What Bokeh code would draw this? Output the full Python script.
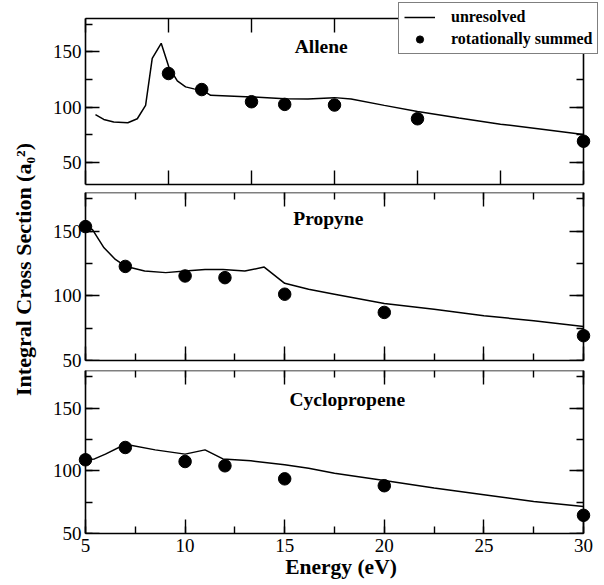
import math

from bokeh.plotting import figure
from bokeh.models import (Range1d, LinearAxis, SingleIntervalTicker, Legend,
                          LegendItem, Label)
from bokeh.layouts import column, row
from bokeh.embed import file_html
from bokeh.resources import INLINE

# ---- Allene ----
allene_curve_e = [0.6, 1.1, 1.7, 2.55, 3.12, 3.62, 4.02, 4.56, 5.03, 5.53, 6.03,
                  6.53, 7.04, 7.54, 10.0, 12.0, 13.4, 15.0, 16.0, 18.0, 20.0,
                  22.5, 25.0, 27.5, 30.0]
allene_curve_ics = [93.1, 88.8, 86.4, 85.8, 89.4, 101.5, 144.0, 157.6, 135.8,
                    123.6, 118.2, 116.4, 115.2, 110.6, 109.1, 107.5, 107.3,
                    108.5, 107.2, 101.5, 96.0, 90.0, 84.5, 80.0, 75.2]
allene_pts_e = [5, 7, 10, 12, 15, 20, 30]
allene_pts_ics = [130.3, 115.8, 104.8, 102.4, 101.8, 89.4, 69.1]

# ---- Propyne ----
propyne_curve_e = [5.0, 5.35, 5.93, 6.5, 7.0, 7.97, 9.03, 10.0, 11.0, 11.9, 13.0,
                   13.97, 15.0, 16.2, 17.5, 20.0, 22.5, 25.0, 27.5, 30.0]
propyne_curve_ics = [152.6, 151.3, 137.2, 128.2, 123.0, 119.2, 118.0, 119.2,
                     120.5, 120.5, 119.2, 122.3, 109.7, 105.1, 101.3, 94.1,
                     89.7, 84.6, 80.8, 76.4]
propyne_pts_e = [5, 7, 10, 12, 15, 20, 30]
propyne_pts_ics = [153.6, 122.8, 115.4, 114.1, 101.3, 87.2, 69.2]

# ---- Cyclopropene ----
cyclo_curve_e = [5.0, 5.45, 6.0, 7.0, 8.5, 10.0, 11.0, 11.9, 13.3, 15.0, 16.2,
                 17.5, 20.0, 22.5, 25.0, 27.5, 30.0]
cyclo_curve_ics = [108.8, 109.5, 113.3, 121.2, 116.7, 113.3, 116.7, 109.5,
                   108.0, 104.8, 102.1, 98.1, 92.3, 86.2, 80.9, 75.6, 71.6]
cyclo_pts_e = [5, 7, 10, 12, 15, 20, 30]
cyclo_pts_ics = [108.8, 118.6, 107.4, 104.0, 93.6, 88.1, 64.5]

x_ticks_interval = 5
y_ticks_interval = 50
x_top = 30
y_top = 180
y_title = "Integral Cross Section (a\u2080\u00b2)"

FONT = "Liberation Serif"
PAGE_W, PAGE_H = 604, 585
TITLE_W = 45                     # strip on the left holding the shared y title
W = PAGE_W - TITLE_W             # width of each panel
LEFT_PX, RIGHT_PX = 85 - TITLE_W, 583 - TITLE_W   # box edges inside a panel
PAD_LEFT = 8                     # frame reaches past the box so edge dots stay whole


def hide_labels(ax):
    ax.major_label_text_font_size = "0px"
    ax.major_label_text_color = None
    ax.major_label_standoff = 0


def tick_axis(ax, minor=True):
    ax.axis_line_color = "black"
    ax.axis_line_width = 1.6
    ax.major_tick_in = 14
    ax.major_tick_out = 0
    ax.major_tick_line_width = 1.4
    ax.minor_tick_in = 7
    ax.minor_tick_out = 0
    ax.minor_tick_line_width = 1.4
    if not minor:
        ax.minor_tick_line_color = None
    hide_labels(ax)


def make_panel(name, name_xy, curve_e, curve_ics, pts_e, pts_ics, x_lo, y_lo,
               height, border_top, border_bottom, box_top_px, x_minor,
               bottom_labels):
    sx = (RIGHT_PX - LEFT_PX) / (x_top - x_lo)
    frame_h = height - border_top - border_bottom
    sy = (frame_h - box_top_px) / (y_top - y_lo)
    p = figure(width=W, height=height,
               x_range=Range1d(x_lo - PAD_LEFT / sx, x_top + (W - RIGHT_PX) / sx),
               y_range=Range1d(y_lo, y_top + box_top_px / sy),
               x_axis_type=None, y_axis_type=None,
               output_backend="svg", toolbar_location=None,
               min_border_left=LEFT_PX - PAD_LEFT, min_border_right=0,
               min_border_top=border_top, min_border_bottom=border_bottom,
               outline_line_color=None,
               background_fill_color="white", border_fill_color="white")

    xt = SingleIntervalTicker(interval=x_ticks_interval,
                              num_minor_ticks=2 if x_minor else 1)
    yt = SingleIntervalTicker(interval=y_ticks_interval, num_minor_ticks=2)

    # bottom edge (with the energy scale on the last panel)
    below = LinearAxis(ticker=xt, bounds=(x_lo, x_top))
    tick_axis(below, x_minor)
    if bottom_labels:
        below.major_label_text_font = FONT
        below.major_label_text_font_size = "19px"
        below.major_label_text_color = "black"
        below.major_label_standoff = 5
        below.axis_label = "Energy (eV)"
        below.axis_label_text_font = FONT
        below.axis_label_text_font_style = "bold"
        below.axis_label_text_font_size = "21.5px"
        below.axis_label_text_color = "black"
        below.axis_label_standoff = 0
    p.add_layout(below, "below")

    # top edge
    above = LinearAxis(ticker=xt, bounds=(x_lo, x_top), fixed_location=y_top)
    tick_axis(above, x_minor)
    p.add_layout(above, "above")

    # numbers of the left scale, just outside the box edge
    left_lab = LinearAxis(ticker=yt)
    left_lab.axis_line_color = None
    left_lab.major_tick_line_color = None
    left_lab.minor_tick_line_color = None
    left_lab.major_tick_out = 0
    left_lab.minor_tick_out = 0
    left_lab.major_label_text_font = FONT
    left_lab.major_label_text_font_size = "19px"
    left_lab.major_label_text_color = "black"
    left_lab.major_label_standoff = 4 - PAD_LEFT
    p.add_layout(left_lab, "left")

    # left and right box edges with their ticks
    left = LinearAxis(ticker=yt, fixed_location=x_lo, bounds=(y_lo, y_top))
    tick_axis(left)
    p.add_layout(left, "left")
    right = LinearAxis(ticker=yt, fixed_location=x_top, bounds=(y_lo, y_top))
    tick_axis(right)
    p.add_layout(right, "right")

    line_r = p.line(curve_e, curve_ics, line_color="black", line_width=1.5)
    dots_r = p.scatter(pts_e, pts_ics, size=12.5, marker="circle",
                       fill_color="black", line_color="black")

    p.add_layout(Label(x=name_xy[0], y=name_xy[1], text=name,
                       text_font=FONT, text_font_style="bold",
                       text_font_size="19.5px", text_color="black",
                       text_align="left", text_baseline="alphabetic"))
    return p, line_r, dots_r


p1, l1, d1 = make_panel("Allene", (12.6, 154.3), allene_curve_e, allene_curve_ics,
                        allene_pts_e, allene_pts_ics, 0, 30,
                        188, 0, 4, 18, False, False)
p2, _, _ = make_panel("Propyne", (15.43, 159.9), propyne_curve_e, propyne_curve_ics,
                      propyne_pts_e, propyne_pts_ics, 5, 50,
                      182, 4, 10, 0, True, False)
p3, _, _ = make_panel("Cyclopropene", (15.24, 156.6), cyclo_curve_e, cyclo_curve_ics,
                      cyclo_pts_e, cyclo_pts_ics, 5, 50,
                      215, 0, 52, 0, True, True)

legend = Legend(items=[LegendItem(label="unresolved", renderers=[l1]),
                       LegendItem(label="rotationally summed", renderers=[d1])],
                location=(398 - TITLE_W - (LEFT_PX - PAD_LEFT), 184 - 54),
                padding=5, spacing=4, margin=0,
                glyph_width=31, glyph_height=18, label_height=18,
                label_standoff=16,
                label_text_font=FONT, label_text_font_style="bold",
                label_text_font_size="16px", label_text_color="black",
                border_line_color="black", border_line_width=1.2,
                background_fill_color="white", background_fill_alpha=1.0)
p1.add_layout(legend)

# shared vertical title spanning the three panels
title_fig = figure(width=TITLE_W, height=PAGE_H,
                   x_range=Range1d(0, TITLE_W), y_range=Range1d(0, PAGE_H),
                   x_axis_type=None, y_axis_type=None,
                   output_backend="svg", toolbar_location=None,
                   min_border=0, outline_line_color=None,
                   background_fill_color="white", border_fill_color="white")
title_fig.add_layout(Label(x=23, y=PAGE_H - 269, text=y_title, angle=math.pi / 2,
                           text_font=FONT, text_font_style="bold",
                           text_font_size="22px", text_color="black",
                           text_align="center", text_baseline="alphabetic"))

layout = row(title_fig, column(p1, p2, p3, spacing=0), spacing=0)
open("out.html", "w").write(file_html(layout, INLINE))
